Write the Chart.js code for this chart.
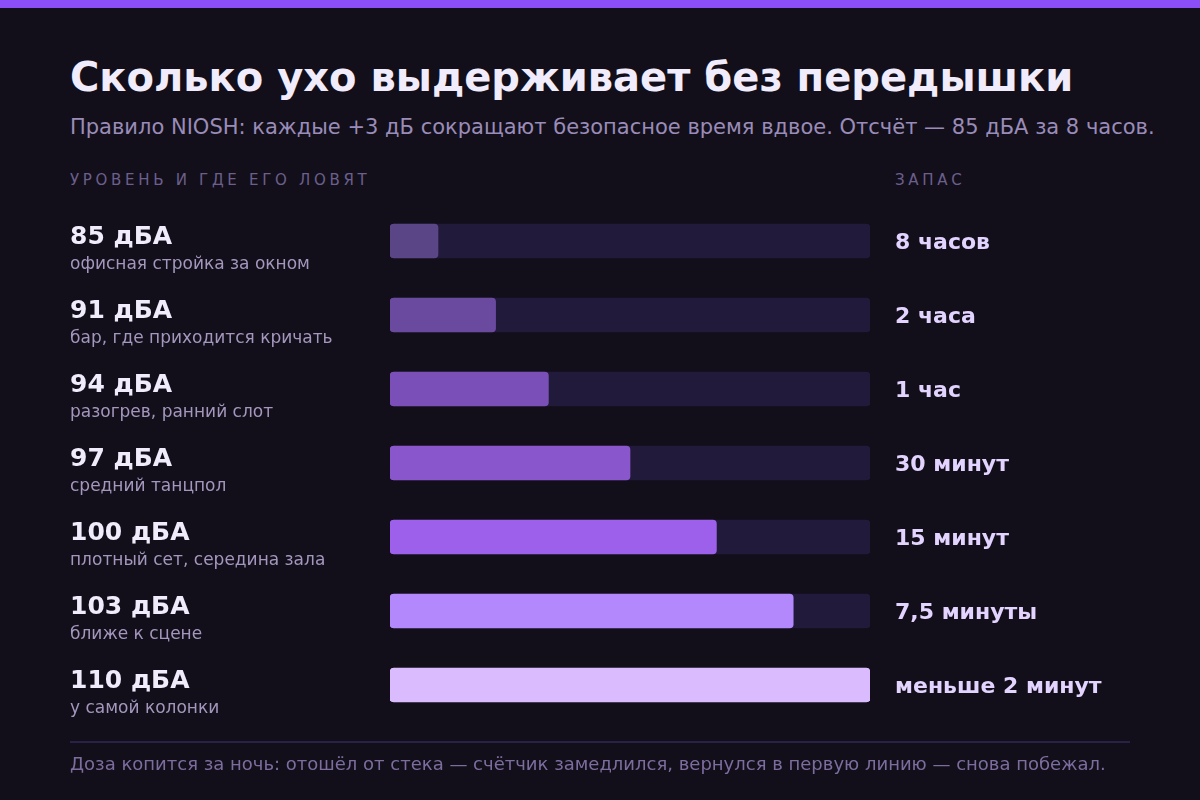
<!DOCTYPE html>
<html lang="ru">
<head>
<meta charset="utf-8">
<title>Сколько ухо выдерживает без передышки</title>
<script src="https://cdn.jsdelivr.net/npm/chart.js@4"></script>
<style>
  html, body { margin: 0; padding: 0; }
  body {
    width: 1200px; height: 800px; overflow: hidden; position: relative;
    background: #120f1b;
    font-family: "DejaVu Sans", sans-serif;
  }
  .stripe { position: absolute; left: 0; top: 0; width: 1200px; height: 8px; background: #8b4ef8; }
  h1 { position: absolute; left: 70px; top: 54px; margin: 0; font-size: 40px; font-weight: bold; color: #f1ecfb; white-space: nowrap; }
  .sub { position: absolute; left: 70px; top: 115px; font-size: 21px; color: #9a8cb8; white-space: nowrap; }
  .hdr { position: absolute; top: 171px; font-size: 15px; letter-spacing: 3.7px; color: #6c5f8c; white-space: nowrap; }
  .rule { position: absolute; left: 70px; top: 741px; width: 1060px; height: 2px; background: #2b2148; }
  .foot { position: absolute; left: 70px; top: 753px; font-size: 18px; color: #7c6d9e; white-space: nowrap; }
  #chart { position: absolute; left: 0; top: 0; }
</style>
</head>
<body>
<div class="stripe"></div>
<h1>Сколько ухо выдерживает без передышки</h1>
<div class="sub">Правило NIOSH: каждые +3 дБ сокращают безопасное время вдвое. Отсчёт — 85 дБА за 8 часов.</div>
<div class="hdr" style="left:70px">УРОВЕНЬ И ГДЕ ЕГО ЛОВЯТ</div>
<div class="hdr" style="left:895px">ЗАПАС</div>
<canvas id="chart" width="1200" height="800"></canvas>
<div class="rule"></div>
<div class="foot">Доза копится за ночь: отошёл от стека — счётчик замедлился, вернулся в первую линию — снова побежал.</div>

<script>
// levels, where you hear them, and how long the ear lasts
const levels = ['85 дБА', '91 дБА', '94 дБА', '97 дБА', '100 дБА', '103 дБА', '110 дБА'];
const places = [
  'офисная стройка за окном',
  'бар, где приходится кричать',
  'разогрев, ранний слот',
  'средний танцпол',
  'плотный сет, середина зала',
  'ближе к сцене',
  'у самой колонки'
];
const safeTime = ['8 часов', '2 часа', '1 час', '30 минут', '15 минут', '7,5 минуты', 'меньше 2 минут'];
const barValues = [10, 22, 33, 50, 68, 84, 100];
const trackValues = [100, 100, 100, 100, 100, 100, 100];

const barColors = ['#5a4586', '#6a4a9f', '#7a4fb7', '#8a56cc', '#9d60ea', '#b388fc', '#dabbfe'];

const rowLabels = {
  id: 'rowLabels',
  afterDraw(chart) {
    const ctx = chart.ctx;
    const y = chart.scales.y;
    ctx.save();
    ctx.textBaseline = 'middle';
    ctx.textAlign = 'left';
    levels.forEach((lvl, i) => {
      const cy = y.getPixelForValue(i);
      ctx.font = 'bold 25px "DejaVu Sans"';
      ctx.fillStyle = '#f1ecfb';
      ctx.fillText(lvl, 70, cy - 4);
      ctx.font = '17px "DejaVu Sans"';
      ctx.fillStyle = '#a497bd';
      ctx.fillText(places[i], 70, cy + 24);
      ctx.font = 'bold 22px "DejaVu Sans"';
      ctx.fillStyle = '#e3d3ff';
      ctx.fillText(safeTime[i], 895, cy + 2);
    });
    ctx.restore();
  }
};

new Chart(document.getElementById('chart').getContext('2d'), {
  type: 'bar',
  data: {
    labels: levels,
    datasets: [
      {
        label: 'запас',
        data: barValues,
        backgroundColor: barColors,
        borderRadius: 4,
        borderSkipped: false,
        barThickness: 34,
        grouped: false,
        order: 1
      },
      {
        label: 'шкала',
        data: trackValues,
        backgroundColor: '#221a3b',
        borderRadius: 4,
        borderSkipped: false,
        barThickness: 34,
        grouped: false,
        order: 2
      }
    ]
  },
  options: {
    indexAxis: 'y',
    responsive: false,
    animation: false,
    layout: { padding: { left: 390, right: 330, top: 204, bottom: 78 } },
    plugins: {
      legend: { display: false },
      tooltip: { enabled: false }
    },
    scales: {
      x: { display: false, min: 0, max: 100 },
      y: { display: false }
    }
  },
  plugins: [rowLabels]
});
</script>
</body>
</html>
